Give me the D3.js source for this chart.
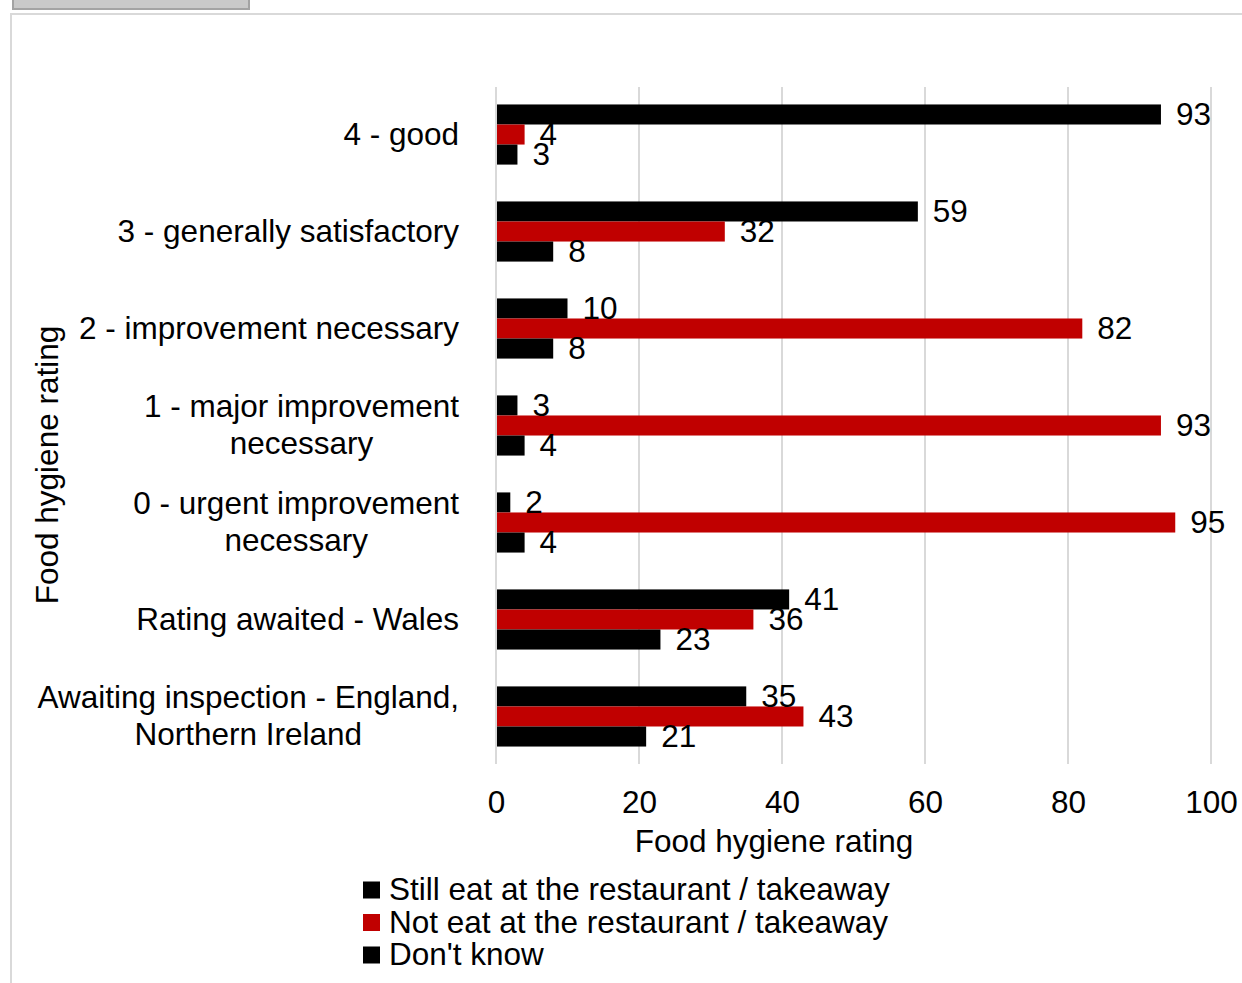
<!DOCTYPE html>
<html>
<head>
<meta charset="utf-8">
<script src="https://cdn.jsdelivr.net/npm/d3@7"></script>
<style>
  html, body { margin: 0; padding: 0; background: #fff; }
  svg { display: block; font-family: "Liberation Sans", Arial, sans-serif; }
</style>
</head>
<body>
<svg id="chart" width="1242" height="983"></svg>
<script>
// Survey answers by food hygiene rating (percent of respondents)
const categories = [
  ["4 - good"],
  ["3 - generally satisfactory"],
  ["2 - improvement necessary"],
  ["1 - major improvement", "necessary"],
  ["0 - urgent improvement", "necessary"],
  ["Rating awaited - Wales"],
  ["Awaiting inspection - England,", "Northern Ireland"]
];
const seriesNames = [
  "Still eat at the restaurant / takeaway",
  "Not eat at the restaurant / takeaway",
  "Don't know"
];
const stillEat = [93, 59, 10, 3, 2, 41, 35];
const notEat = [4, 32, 82, 93, 95, 36, 43];
const dontKnow = [3, 8, 8, 4, 4, 23, 21];
const xTicks = [0, 20, 40, 60, 80, 100];
const seriesColors = ["#000000", "#c00000", "#000000"];

const seriesValues = [stillEat, notEat, dontKnow];
const catKeys = categories.map(c => c.join(" "));

const svg = d3.select("#chart");
const FONT = 31.5;

// page furniture: tab strip and chart frame
svg.append("rect").attr("x", 13).attr("y", -4).attr("width", 236).attr("height", 13)
  .attr("fill", "#c9c9c9").attr("stroke", "#a3a3a3").attr("stroke-width", 2);
svg.append("rect").attr("x", 11).attr("y", 14).attr("width", 1240).attr("height", 980)
  .attr("fill", "#ffffff").attr("stroke", "#d9d9d9").attr("stroke-width", 2);

const x = d3.scaleLinear().domain([0, 100]).range([496, 1211]);
const y = d3.scaleBand().domain(catKeys).range([87, 764])
  .paddingInner(0.38).paddingOuter(0.18);
const ySub = d3.scaleBand().domain(d3.range(seriesNames.length))
  .range([0, y.bandwidth()]);

// vertical gridlines
svg.append("g").selectAll("line").data(xTicks).join("line")
  .attr("x1", d => x(d)).attr("x2", d => x(d))
  .attr("y1", 87).attr("y2", 764)
  .attr("stroke", "#d9d9d9").attr("stroke-width", 2);

// x axis tick labels
const xAxis = d3.axisBottom(x).tickValues(xTicks).tickSize(0).tickPadding(0);
const gx = svg.append("g").attr("transform", "translate(0,813)").call(xAxis);
gx.select(".domain").remove();
gx.selectAll("text").attr("dy", 0).attr("font-size", FONT)
  .attr("font-family", "Liberation Sans, Arial, sans-serif").attr("fill", "#000");

// bars
const rows = [];
catKeys.forEach((k, i) => {
  seriesValues.forEach((vals, s) => rows.push({ key: k, s, v: vals[i] }));
});
svg.append("g").selectAll("rect").data(rows).join("rect")
  .attr("x", x(0) + 1)
  .attr("y", d => y(d.key) + ySub(d.s))
  .attr("width", d => x(d.v) - x(0) - 1)
  .attr("height", ySub.bandwidth())
  .attr("fill", d => seriesColors[d.s]);

// value labels
svg.append("g").selectAll("text").data(rows).join("text")
  .attr("x", d => x(d.v) + 15)
  .attr("y", d => y(d.key) + ySub(d.s) + ySub.bandwidth() / 2)
  .attr("dy", "0.33em")
  .attr("font-size", FONT)
  .attr("fill", "#000")
  .text(d => d.v);

// category labels: block right-aligned, lines centred within block
const labelRight = 459;
const lineH = 37;
categories.forEach((lines, i) => {
  const cy = y(catKeys[i]) + y.bandwidth() / 2;
  const g = svg.append("g");
  const texts = lines.map((t, j) => g.append("text")
    .attr("font-size", FONT).attr("fill", "#000")
    .attr("y", cy + (j - (lines.length - 1) / 2) * lineH)
    .attr("dy", "0.33em")
    .attr("text-anchor", "middle")
    .text(t));
  const w = d3.max(texts, t => t.node().getComputedTextLength());
  texts.forEach(t => t.attr("x", labelRight - w / 2));
});

// axis titles
svg.append("text")
  .attr("transform", "translate(58,465) rotate(-90)")
  .attr("text-anchor", "middle").attr("font-size", FONT).attr("fill", "#000")
  .text("Food hygiene rating");
svg.append("text")
  .attr("x", 774).attr("y", 852)
  .attr("text-anchor", "middle").attr("font-size", FONT).attr("fill", "#000")
  .text("Food hygiene rating");

// legend
const legend = svg.append("g").selectAll("g").data(seriesNames).join("g")
  .attr("transform", (d, i) => `translate(363,${890 + i * 32.5})`);
legend.append("rect").attr("x", 0).attr("y", -8.5).attr("width", 17).attr("height", 17)
  .attr("fill", (d, i) => seriesColors[i]);
legend.append("text").attr("x", 26).attr("y", 0).attr("dy", "0.33em")
  .attr("font-size", FONT).attr("fill", "#000").text(d => d);
</script>
</body>
</html>
